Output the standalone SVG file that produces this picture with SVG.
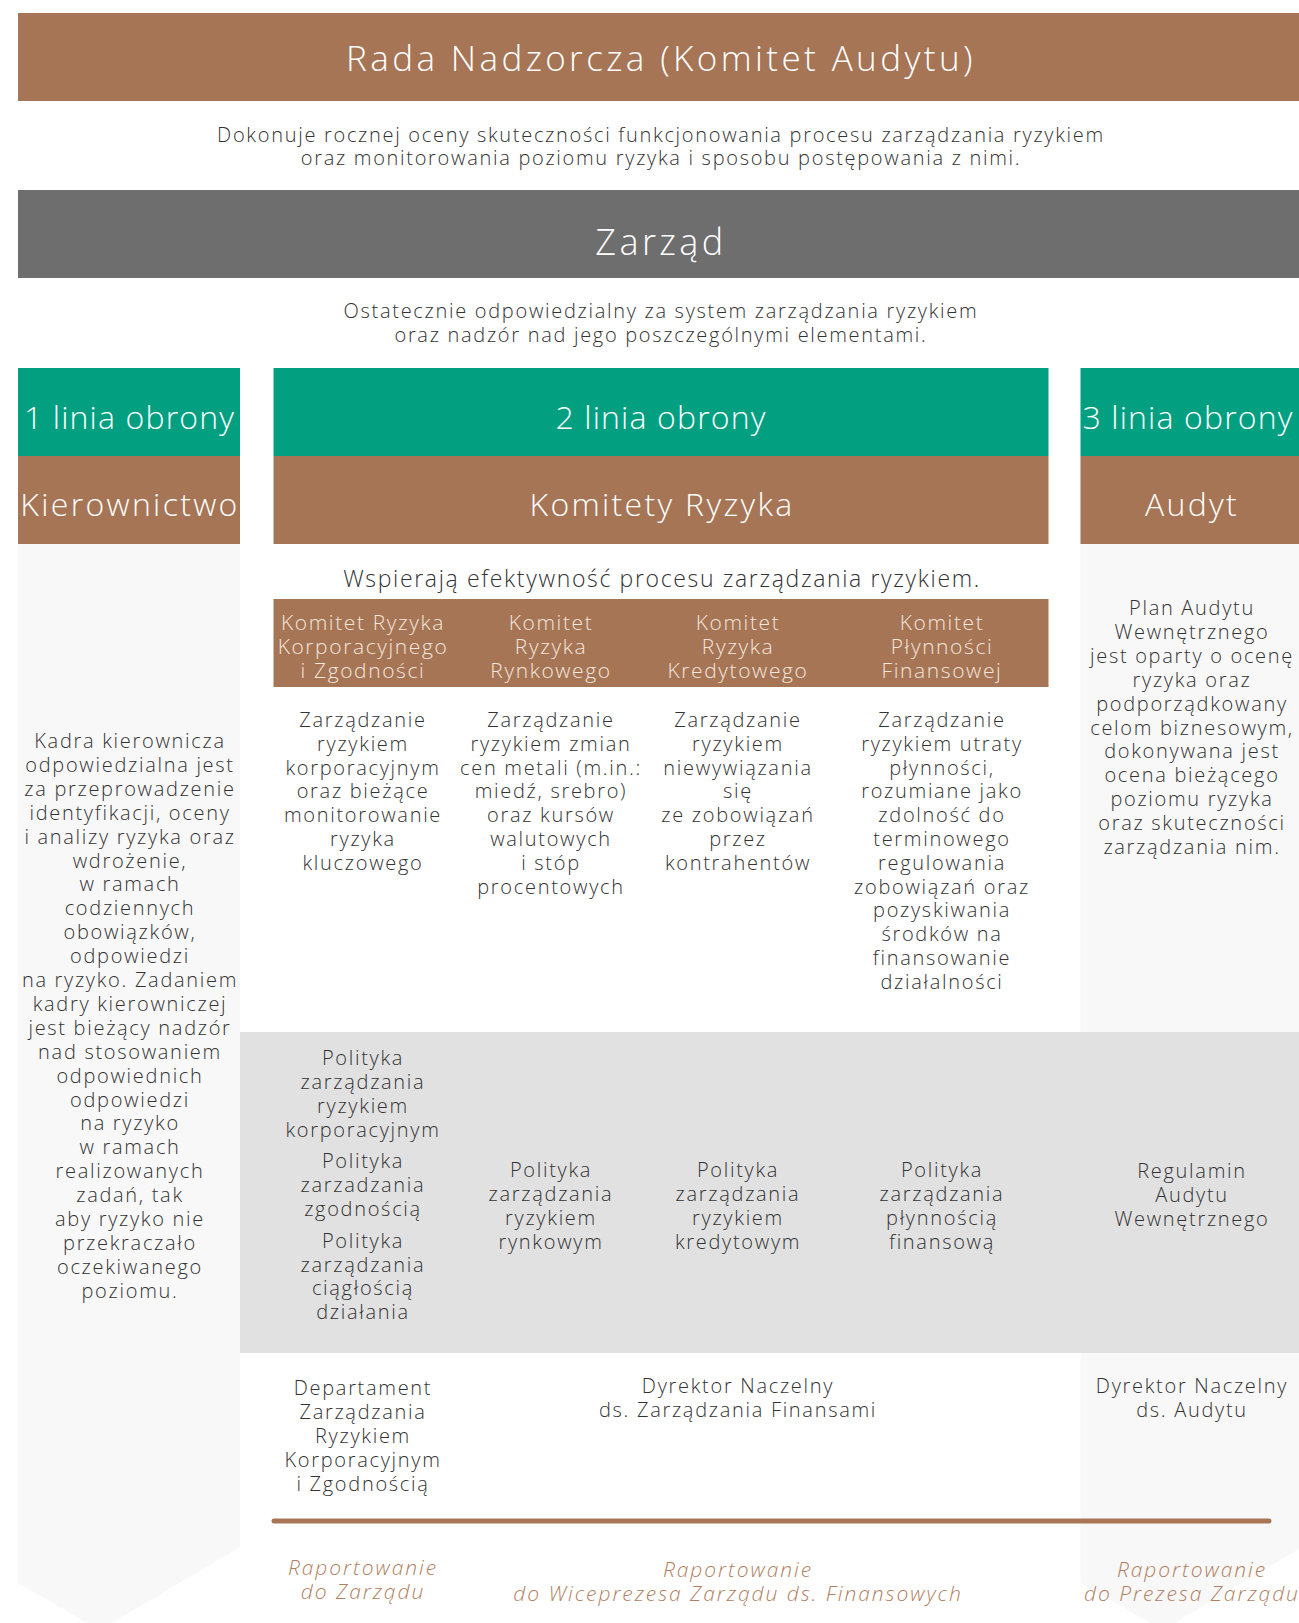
<svg xmlns="http://www.w3.org/2000/svg" width="1299" height="1623" viewBox="0 0 1299 1623">
<style>
text{font-family:"Open Sans","Liberation Sans",sans-serif;font-weight:300;text-anchor:middle}
.hd{fill:#ffffff;font-size:35px;letter-spacing:3.4px}
.col{fill:#ffffff;font-size:32px;letter-spacing:2.3px}
.lin{letter-spacing:1.15px}
.sub{fill:#f3e6dc;font-size:21px;letter-spacing:1.6px}
.b{fill:#333333;font-size:20px;letter-spacing:1.7px}
.d{fill:#333333;font-size:20px;letter-spacing:1.7px}
.w{fill:#333333;font-size:23px;letter-spacing:1.65px}
.rep{fill:#b07f5f;font-size:21px;font-style:italic;letter-spacing:1.95px}
.brown{fill:#a67556}
.green{fill:#02a081}
.light{fill:#f8f8f8}
</style>
<rect x="0" y="0" width="1299" height="1623" fill="#ffffff"/>

<g id="col1-bg"><polygon class="light" points="18,544 240,544 240,1547 100,1630 18,1583"/></g>
<g id="col3-bg"><polygon class="light" points="1080.5,544 1302.5,544 1302.5,1547 1162.7,1630 1080.5,1583"/></g>
<g id="policy-band"><rect x="240" y="1032" width="1062" height="321" fill="#e1e1e1"/></g>

<g id="rada">
<rect class="brown" x="18" y="13" width="1284" height="88"/>
<text class="hd" x="661" y="71">Rada Nadzorcza (Komitet Audytu)</text>
</g>
<g id="rada-desc">
<text class="d" x="661" y="141.5">Dokonuje rocznej oceny skuteczności funkcjonowania procesu zarządzania ryzykiem</text>
<text class="d" x="661" y="165">oraz monitorowania poziomu ryzyka i sposobu postępowania z nimi.</text>
</g>

<g id="zarzad">
<rect x="18" y="190" width="1284" height="88" fill="#6e6e6e"/>
<text class="hd" x="661" y="255" style="font-size:36px">Zarząd</text>
</g>
<g id="zarzad-desc">
<text class="d" x="661" y="318">Ostatecznie odpowiedzialny za system zarządzania ryzykiem</text>
<text class="d" x="661" y="342">oraz nadzór nad jego poszczególnymi elementami.</text>
</g>

<g id="linia1">
<rect class="green" x="18" y="368" width="222" height="88"/>
<text class="col lin" x="129.5" y="429">1 linia obrony</text>
</g>
<g id="kierownictwo">
<rect class="brown" x="18" y="456" width="222" height="88"/>
<text class="col" x="130" y="516">Kierownictwo</text>
</g>
<g id="linia2">
<rect class="green" x="273.5" y="368" width="775" height="88"/>
<text class="col lin" x="661" y="429">2 linia obrony</text>
</g>
<g id="komitety">
<rect class="brown" x="273.5" y="456" width="775" height="88"/>
<text class="col" x="662" y="516">Komitety Ryzyka</text>
</g>
<g id="linia3">
<rect class="green" x="1080.5" y="368" width="222" height="88"/>
<text class="col lin" x="1188" y="429">3 linia obrony</text>
</g>
<g id="audyt">
<rect class="brown" x="1080.5" y="456" width="222" height="88"/>
<text class="col" x="1192" y="516">Audyt</text>
</g>

<g id="kierownictwo-desc">
<text class="b" x="130" y="748">Kadra kierownicza<tspan x="130" dy="23.9">odpowiedzialna jest</tspan><tspan x="130" dy="23.9">za przeprowadzenie</tspan><tspan x="130" dy="23.9">identyfikacji, oceny</tspan><tspan x="130" dy="23.9">i analizy ryzyka oraz</tspan><tspan x="130" dy="23.9">wdrożenie,</tspan><tspan x="130" dy="23.9">w ramach</tspan><tspan x="130" dy="23.9">codziennych</tspan><tspan x="130" dy="23.9">obowiązków,</tspan><tspan x="130" dy="23.9">odpowiedzi</tspan><tspan x="130" dy="23.9">na ryzyko. Zadaniem</tspan><tspan x="130" dy="23.9">kadry kierowniczej</tspan><tspan x="130" dy="23.9">jest bieżący nadzór</tspan><tspan x="130" dy="23.9">nad stosowaniem</tspan><tspan x="130" dy="23.9">odpowiednich</tspan><tspan x="130" dy="23.9">odpowiedzi</tspan><tspan x="130" dy="23.9">na ryzyko</tspan><tspan x="130" dy="23.9">w ramach</tspan><tspan x="130" dy="23.9">realizowanych</tspan><tspan x="130" dy="23.9">zadań, tak</tspan><tspan x="130" dy="23.9">aby ryzyko nie</tspan><tspan x="130" dy="23.9">przekraczało</tspan><tspan x="130" dy="23.9">oczekiwanego</tspan><tspan x="130" dy="23.9">poziomu.</tspan></text>
</g>

<g id="wspieraja">
<text class="w" x="662" y="587">Wspierają efektywność procesu zarządzania ryzykiem.</text>
</g>

<g id="komitety-sub">
<rect class="brown" x="273.5" y="599" width="775" height="88"/>
<text class="sub" x="363" y="630">Komitet Ryzyka<tspan x="363" dy="23.9">Korporacyjnego</tspan><tspan x="363" dy="23.9">i Zgodności</tspan></text>
<text class="sub" x="551" y="630">Komitet<tspan x="551" dy="23.9">Ryzyka</tspan><tspan x="551" dy="23.9">Rynkowego</tspan></text>
<text class="sub" x="738" y="630">Komitet<tspan x="738" dy="23.9">Ryzyka</tspan><tspan x="738" dy="23.9">Kredytowego</tspan></text>
<text class="sub" x="942" y="630">Komitet<tspan x="942" dy="23.9">Płynności</tspan><tspan x="942" dy="23.9">Finansowej</tspan></text>
</g>

<g id="kom-korp-desc">
<text class="b" x="363" y="727">Zarządzanie<tspan x="363" dy="23.8">ryzykiem</tspan><tspan x="363" dy="23.8">korporacyjnym</tspan><tspan x="363" dy="23.8">oraz bieżące</tspan><tspan x="363" dy="23.8">monitorowanie</tspan><tspan x="363" dy="23.8">ryzyka</tspan><tspan x="363" dy="23.8">kluczowego</tspan></text>
</g>
<g id="kom-rynk-desc">
<text class="b" x="551" y="727">Zarządzanie<tspan x="551" dy="23.8">ryzykiem zmian</tspan><tspan x="551" dy="23.8">cen metali (m.in.:</tspan><tspan x="551" dy="23.8">miedź, srebro)</tspan><tspan x="551" dy="23.8">oraz kursów</tspan><tspan x="551" dy="23.8">walutowych</tspan><tspan x="551" dy="23.8">i stóp</tspan><tspan x="551" dy="23.8">procentowych</tspan></text>
</g>
<g id="kom-kred-desc">
<text class="b" x="738" y="727">Zarządzanie<tspan x="738" dy="23.8">ryzykiem</tspan><tspan x="738" dy="23.8">niewywiązania</tspan><tspan x="738" dy="23.8">się</tspan><tspan x="738" dy="23.8">ze zobowiązań</tspan><tspan x="738" dy="23.8">przez</tspan><tspan x="738" dy="23.8">kontrahentów</tspan></text>
</g>
<g id="kom-plyn-desc">
<text class="b" x="942" y="727">Zarządzanie<tspan x="942" dy="23.8">ryzykiem utraty</tspan><tspan x="942" dy="23.8">płynności,</tspan><tspan x="942" dy="23.8">rozumiane jako</tspan><tspan x="942" dy="23.8">zdolność do</tspan><tspan x="942" dy="23.8">terminowego</tspan><tspan x="942" dy="23.8">regulowania</tspan><tspan x="942" dy="23.8">zobowiązań oraz</tspan><tspan x="942" dy="23.8">pozyskiwania</tspan><tspan x="942" dy="23.8">środków na</tspan><tspan x="942" dy="23.8">finansowanie</tspan><tspan x="942" dy="23.8">działalności</tspan></text>
</g>

<g id="audyt-desc">
<text class="b" x="1192" y="615">Plan Audytu<tspan x="1192" dy="23.9">Wewnętrznego</tspan><tspan x="1192" dy="23.9">jest oparty o ocenę</tspan><tspan x="1192" dy="23.9">ryzyka oraz</tspan><tspan x="1192" dy="23.9">podporządkowany</tspan><tspan x="1192" dy="23.9">celom biznesowym,</tspan><tspan x="1192" dy="23.9">dokonywana jest</tspan><tspan x="1192" dy="23.9">ocena bieżącego</tspan><tspan x="1192" dy="23.9">poziomu ryzyka</tspan><tspan x="1192" dy="23.9">oraz skuteczności</tspan><tspan x="1192" dy="23.9">zarządzania nim.</tspan></text>
</g>

<g id="pol-korp">
<text class="b" x="363" y="1065">Polityka<tspan x="363" dy="23.9">zarządzania</tspan><tspan x="363" dy="23.9">ryzykiem</tspan><tspan x="363" dy="23.9">korporacyjnym</tspan></text>
</g>
<g id="pol-zgod">
<text class="b" x="363" y="1168">Polityka<tspan x="363" dy="23.9">zarzadzania</tspan><tspan x="363" dy="23.9">zgodnością</tspan></text>
</g>
<g id="pol-ciag">
<text class="b" x="363" y="1248">Polityka<tspan x="363" dy="23.7">zarządzania</tspan><tspan x="363" dy="23.7">ciągłością</tspan><tspan x="363" dy="23.7">działania</tspan></text>
</g>
<g id="pol-rynk">
<text class="b" x="551" y="1177">Polityka<tspan x="551" dy="23.9">zarządzania</tspan><tspan x="551" dy="23.9">ryzykiem</tspan><tspan x="551" dy="23.9">rynkowym</tspan></text>
</g>
<g id="pol-kred">
<text class="b" x="738" y="1177">Polityka<tspan x="738" dy="23.9">zarządzania</tspan><tspan x="738" dy="23.9">ryzykiem</tspan><tspan x="738" dy="23.9">kredytowym</tspan></text>
</g>
<g id="pol-plyn">
<text class="b" x="942" y="1177">Polityka<tspan x="942" dy="23.9">zarządzania</tspan><tspan x="942" dy="23.9">płynnością</tspan><tspan x="942" dy="23.9">finansową</tspan></text>
</g>
<g id="regulamin">
<text class="b" x="1192" y="1178">Regulamin<tspan x="1192" dy="23.9">Audytu</tspan><tspan x="1192" dy="23.9">Wewnętrznego</tspan></text>
</g>

<g id="departament">
<text class="b" x="363" y="1395">Departament<tspan x="363" dy="24">Zarządzania</tspan><tspan x="363" dy="24">Ryzykiem</tspan><tspan x="363" dy="24">Korporacyjnym</tspan><tspan x="363" dy="24">i Zgodnością</tspan></text>
</g>
<g id="dyr-fin">
<text class="b" x="738" y="1393">Dyrektor Naczelny<tspan x="738" dy="24">ds. Zarządzania Finansami</tspan></text>
</g>
<g id="dyr-aud">
<text class="b" x="1192" y="1393">Dyrektor Naczelny<tspan x="1192" dy="24">ds. Audytu</tspan></text>
</g>

<g id="connectors">
<line x1="274" y1="1521" x2="1269" y2="1521" stroke="#a87656" stroke-width="5" stroke-linecap="round"/>
</g>

<g id="rap-zarzad">
<text class="rep" x="363" y="1575">Raportowanie<tspan x="363" dy="23.5">do Zarządu</tspan></text>
</g>
<g id="rap-wice">
<text class="rep" x="738" y="1577">Raportowanie<tspan x="738" dy="24">do Wiceprezesa Zarządu ds. Finansowych</tspan></text>
</g>
<g id="rap-prezes">
<text class="rep" x="1192" y="1577">Raportowanie<tspan x="1192" dy="24">do Prezesa Zarządu</tspan></text>
</g>
</svg>
